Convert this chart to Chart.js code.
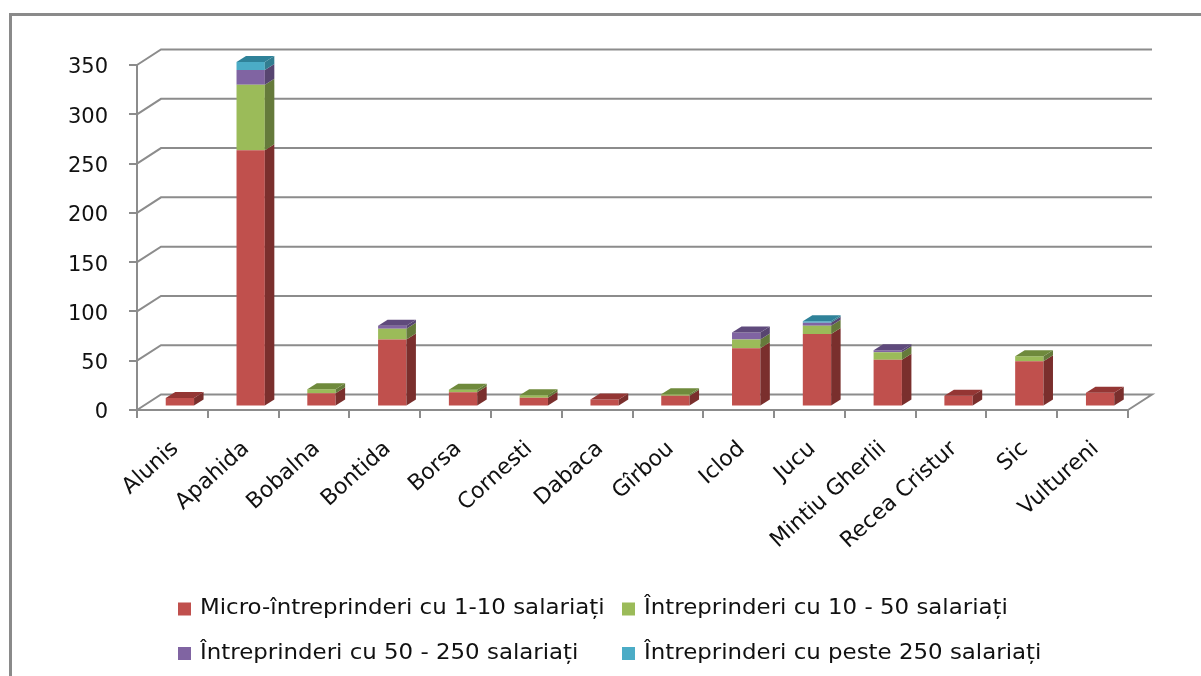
<!DOCTYPE html>
<html lang="ro">
<head>
<meta charset="utf-8">
<style>
html,body{margin:0;padding:0;background:#fff;overflow:hidden}
#wrap{position:relative;width:1201px;height:676px}
canvas{display:block;filter:blur(0.55px)}
</style>
<script src="https://cdn.jsdelivr.net/npm/chart.js@4"></script>
</head>
<body>
<div id="wrap"><canvas id="c" width="1201" height="676"></canvas></div>
<script>
const categories = ["Alunis","Apahida","Bobalna","Bontida","Borsa","Cornesti","Dabaca","Gîrbou","Iclod","Jucu","Mintiu Gherlii","Recea Cristur","Sic","Vultureni"];
const micro  = [8.5,260,13.5,68,14.5,9,7,11,59,73.5,47.5,11,46,14];
const small  = [0,66.5,4,11,2.5,2.5,0,1.5,9,8.5,7.5,0,5,0];
const medium = [0,15,0,3,0,0,0,0,7,3,2,0,0,0];
const large  = [0,8,0,0,0,0,0,0,0,1.5,0,0,0,0];
const seriesNames = ["Micro-întreprinderi cu 1-10 salariați","Întreprinderi cu 10 - 50 salariați","Întreprinderi cu 50 - 250 salariați","Întreprinderi cu peste 250 salariați"];
const frontColors = ["#C0504D","#9BBB59","#8064A2","#4BACC6"];
const sideColors  = ["#7A2F2D","#657A3B","#574570","#327D90"];
const topColors   = ["#943634","#6F8A3C","#5F4A7C","#2F8299"];
const ticksY = {min:0,max:350,step:50};

const GRID = "#8C8C8C";
const WALL = {dx:24, dy:-15.5};     // depth of the back wall
const BAR  = {dx:9.5, dy:-6, sx:7.5, sy:-3.5}; // bar depth and floor offset
const FONT = '"DejaVu Sans", sans-serif';

function quad(ctx,pts,fill){
  ctx.fillStyle=fill;ctx.beginPath();
  pts.forEach((p,i)=>i?ctx.lineTo(p[0],p[1]):ctx.moveTo(p[0],p[1]));
  ctx.closePath();ctx.fill();
}

const wallPlugin = {
  id:'wall',
  beforeDatasetsDraw(chart){
    const {ctx,scales:{x,y},chartArea:a}=chart;
    ctx.save();
    // outer frame
    ctx.strokeStyle="#8A8A8A";ctx.lineWidth=3;
    ctx.beginPath();ctx.moveTo(10.5,676);ctx.lineTo(10.5,14.5);ctx.lineTo(1201,14.5);ctx.stroke();
    // back wall lines and left wall diagonals
    ctx.strokeStyle=GRID;ctx.lineWidth=2;
    y.ticks.forEach(t=>{
      const py=y.getPixelForValue(t.value);
      ctx.beginPath();
      ctx.moveTo(a.left,py);
      ctx.lineTo(a.left+WALL.dx,py+WALL.dy);
      ctx.lineTo(a.right+WALL.dx,py+WALL.dy);
      if(t.value===0) ctx.lineTo(a.right,py);
      ctx.stroke();
    });
    ctx.restore();
    // bars sit in the middle of the floor
    ctx.save();
    ctx.translate(BAR.sx,BAR.sy);
  },
  afterDatasetsDraw(chart){
    const {ctx}=chart;
    const metas=chart.data.datasets.map((d,i)=>chart.getDatasetMeta(i));
    categories.forEach((c,ci)=>{
      let topIdx=-1;
      metas.forEach((m,di)=>{
        if(chart.data.datasets[di].data[ci]<=0) return;
        const el=m.data[ci];
        const r=el.x+el.width/2, top=el.y, bot=el.base;
        quad(ctx,[[r,top],[r,bot],[r+BAR.dx,bot+BAR.dy],[r+BAR.dx,top+BAR.dy]],sideColors[di]);
        topIdx=di;
      });
      if(topIdx>=0){
        const el=metas[topIdx].data[ci];
        const l=el.x-el.width/2, r=el.x+el.width/2, t=el.y;
        quad(ctx,[[l,t],[r,t],[r+BAR.dx,t+BAR.dy],[l+BAR.dx,t+BAR.dy]],topColors[topIdx]);
      }
    });
    ctx.restore();
  },
  afterDraw(chart){
    // two-column legend
    const {ctx}=chart;
    const cols=[178,622], rows=[609,653.5], box=13, gap=9, stretch=1.09;
    ctx.save();
    ctx.font='21px '+FONT;ctx.textBaseline='middle';ctx.textAlign='left';
    chart.data.datasets.forEach((d,i)=>{
      const X=cols[i%2], Y=rows[i>>1];
      ctx.fillStyle=d.backgroundColor;
      ctx.fillRect(X,Y-box/2,box,box);
      ctx.save();
      ctx.translate(X+box+gap,Y);ctx.scale(stretch,1);
      ctx.fillStyle="#111";
      ctx.fillText(d.label,0,0);
      ctx.restore();
    });
    ctx.restore();
  }
};

new Chart(document.getElementById('c'),{
  type:'bar',
  data:{
    labels:categories,
    datasets:[micro,small,medium,large].map((v,i)=>({
      label:seriesNames[i],data:v,backgroundColor:frontColors[i],borderWidth:0,
      categoryPercentage:1,barPercentage:0.4
    }))
  },
  plugins:[wallPlugin],
  options:{
    responsive:false,animation:false,
    layout:{padding:{top:65,right:73,left:0,bottom:0}},
    plugins:{legend:{display:false},title:{display:false},tooltip:{enabled:false}},
    scales:{
      x:{
        stacked:true,
        afterFit(s){s.height=266;},
        border:{color:GRID,width:2},
        grid:{drawOnChartArea:false,color:GRID,lineWidth:2,tickLength:8},
        ticks:{autoSkip:false,minRotation:42,maxRotation:42,padding:18,labelOffset:3,color:"#111",font:{family:FONT,size:22}}
      },
      y:{
        stacked:true,min:ticksY.min,max:ticksY.max,
        afterFit(s){s.width=137;},
        border:{color:GRID,width:2},
        grid:{drawOnChartArea:false,color:GRID,lineWidth:2,tickLength:8},
        ticks:{stepSize:ticksY.step,padding:21,labelOffset:3,color:"#111",font:{family:FONT,size:21}}
      }
    }
  }
});
</script>
</body>
</html>
